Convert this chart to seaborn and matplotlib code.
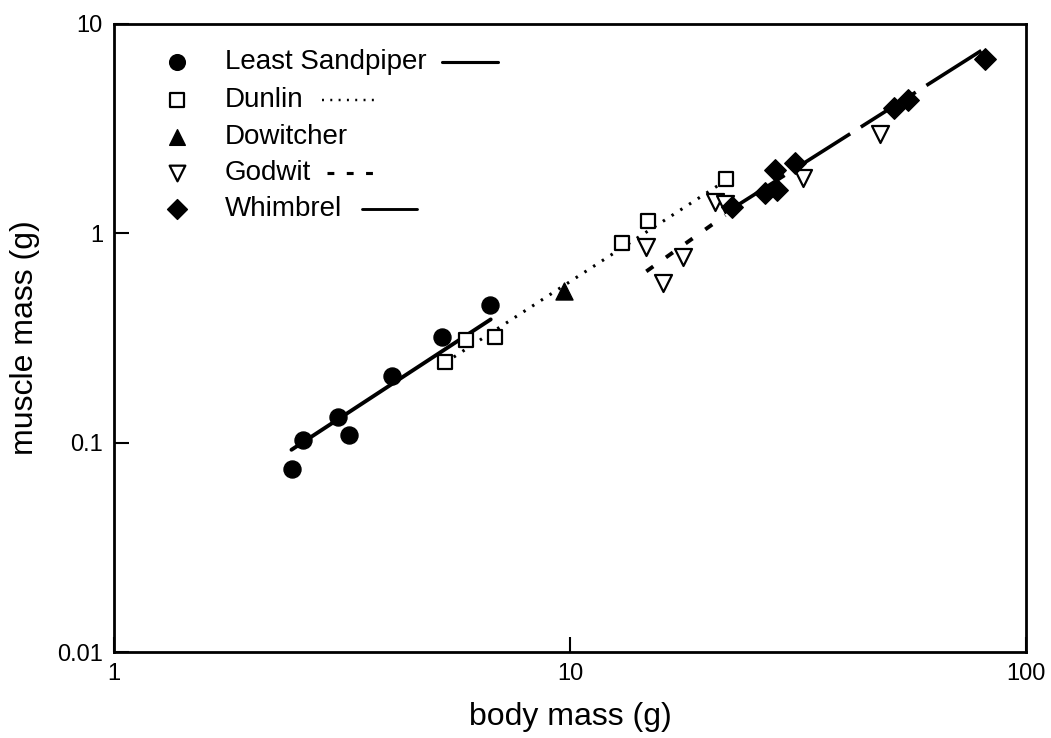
import numpy as np
import pandas as pd
import matplotlib
matplotlib.use("Agg")
import matplotlib.pyplot as plt
import seaborn as sns

# ---- data ----
species = ["Least Sandpiper", "Dunlin", "Dowitcher", "Godwit", "Whimbrel"]

ls_body = [2.46, 2.60, 3.10, 3.28, 4.07, 5.24, 6.68]
ls_muscle = [0.075, 0.103, 0.133, 0.109, 0.209, 0.321, 0.453]

du_body = [5.32, 5.91, 6.85, 13.0, 14.8, 22.0]
du_muscle = [0.244, 0.308, 0.318, 0.896, 1.14, 1.81]

dw_body = [9.70]
dw_muscle = [0.528]

gw_body = [14.7, 16.0, 17.7, 20.8, 21.9, 32.4, 47.8]
gw_muscle = [0.857, 0.576, 0.767, 1.41, 1.38, 1.83, 2.98]

wh_body = [22.7, 26.8, 28.4, 28.2, 31.1, 51.3, 55.1, 81.3]
wh_muscle = [1.33, 1.55, 1.61, 2.00, 2.16, 3.96, 4.33, 6.80]

# fitted lines (end points)
ls_fit_x = [2.45, 6.70]
ls_fit_y = [0.0925, 0.388]
du_fit_x = [5.32, 21.5]
du_fit_y = [0.241, 1.735]
gw_fit_x = [14.7, 21.9]
gw_fit_y = [0.658, 1.22]
wh_fit_x = [22.4, 80.8]
wh_fit_y = [1.29, 7.59]

x_ticks = [1, 10, 100]
x_ticklabels = ["1", "10", "100"]
y_ticks = [0.01, 0.1, 1, 10]
y_ticklabels = ["0.01", "0.1", "1", "10"]

# ---- styling ----
sns.set_theme(style="ticks")
plt.rcParams["font.family"] = ["Liberation Sans", "DejaVu Sans"]
plt.rcParams["text.color"] = "black"
plt.rcParams["axes.labelcolor"] = "black"

fig = plt.figure(figsize=(10.51, 7.38), dpi=100)
ax = fig.add_axes([0.1085, 0.1165, 0.8677, 0.851])

pts = pd.concat([
    pd.DataFrame({"body": ls_body, "muscle": ls_muscle, "species": species[0]}),
    pd.DataFrame({"body": du_body, "muscle": du_muscle, "species": species[1]}),
    pd.DataFrame({"body": dw_body, "muscle": dw_muscle, "species": species[2]}),
    pd.DataFrame({"body": gw_body, "muscle": gw_muscle, "species": species[3]}),
    pd.DataFrame({"body": wh_body, "muscle": wh_muscle, "species": species[4]}),
], ignore_index=True)

fits = {
    species[0]: (ls_fit_x, ls_fit_y, dict(lw=2.8, ls="-")),
    species[1]: (du_fit_x, du_fit_y, dict(lw=2.2, ls=(0, (0.8, 2.6)))),
    species[3]: (gw_fit_x, gw_fit_y, dict(lw=2.8, ls=(0, (2.2, 4.0)))),
    species[4]: (wh_fit_x, wh_fit_y, dict(lw=2.6, ls=(0, (18, 3.5)))),
}

mstyle = {
    species[0]: dict(marker="o", s=150, facecolor="black", edgecolor="black", linewidth=1),
    species[1]: dict(marker="s", s=110, facecolor="white", edgecolor="black", linewidth=1.6),
    species[2]: dict(marker="^", s=150, facecolor="black", edgecolor="black", linewidth=1),
    species[3]: dict(marker="v", s=150, facecolor="white", edgecolor="black", linewidth=1.6),
    species[4]: dict(marker="D", s=120, facecolor="black", edgecolor="black", linewidth=1),
}

for sp, (fx, fy, st) in fits.items():
    sns.lineplot(x=fx, y=fy, ax=ax, color="black", linewidth=st["lw"],
                 linestyle=st["ls"], zorder=2, legend=False)

for sp in species:
    d = pts[pts["species"] == sp]
    st = mstyle[sp]
    sns.scatterplot(data=d, x="body", y="muscle", ax=ax, marker=st["marker"], s=st["s"],
                    color=st["facecolor"], edgecolor=st["edgecolor"], linewidth=st["linewidth"],
                    zorder=3, legend=False)

ax.set_xscale("log")
ax.set_yscale("log")
ax.set_xlim(1, 100)
ax.set_ylim(0.01, 10)
ax.set_xticks(x_ticks)
ax.set_xticklabels(x_ticklabels)
ax.set_yticks(y_ticks)
ax.set_yticklabels(y_ticklabels)
ax.minorticks_off()
ax.tick_params(axis="both", which="major", direction="in", length=11, width=1.5,
               labelsize=17, colors="black", pad=8)
for s in ax.spines.values():
    s.set_linewidth(2)
    s.set_color("black")

ax.set_xlabel("body mass (g)", fontsize=23, va="center")
ax.set_ylabel("muscle mass (g)", fontsize=23, va="center")
ax.xaxis.set_label_coords(0.5, -0.1035)
ax.yaxis.set_label_coords(-0.0976, 0.5)

# ---- custom legend: marker, label, line sample ----
rows_y = [0.9395, 0.879, 0.820, 0.7627, 0.705]
marker_x = 0.069
text_x = 0.1217
line_seg = {
    species[0]: (0.3596, 0.421),
    species[1]: (0.228, 0.288),
    species[3]: (0.2336, 0.286),
    species[4]: (0.272, 0.332),
}
for sp, ry in zip(species, rows_y):
    st = mstyle[sp]
    ax.scatter([marker_x], [ry], transform=ax.transAxes, marker=st["marker"],
               s=st["s"] * 0.85, facecolor=st["facecolor"], edgecolor=st["edgecolor"],
               linewidth=st["linewidth"], zorder=4, clip_on=False)
    ax.text(text_x, ry, sp, transform=ax.transAxes, fontsize=20, va="center", ha="left")
    if sp in line_seg:
        x0, x1 = line_seg[sp]
        lst = fits[sp][2]
        ax.plot([x0, x1], [ry, ry], transform=ax.transAxes, color="black",
                lw=lst["lw"] * 0.8, ls=lst["ls"] if sp != species[4] else "-")

fig.savefig("out.png", dpi=100)
